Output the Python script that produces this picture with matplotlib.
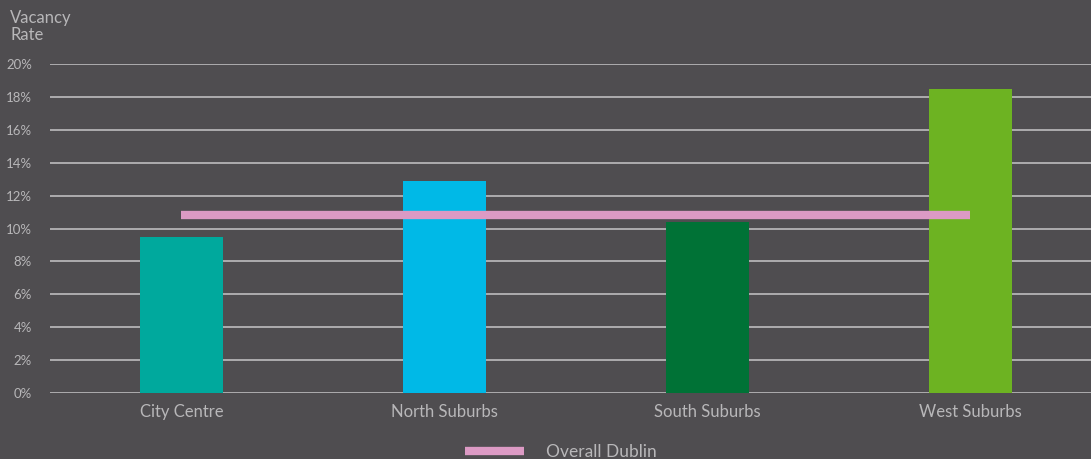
import matplotlib
matplotlib.use("Agg")
import matplotlib.pyplot as plt
from matplotlib.lines import Line2D
from matplotlib.ticker import FuncFormatter

categories = ["City Centre", "North Suburbs", "South Suburbs", "West Suburbs"]
vacancy = [9.5, 12.9, 10.4, 18.5]
overall_dublin = [10.8, 10.8, 10.8, 10.8]
yticks = [0, 2, 4, 6, 8, 10, 12, 14, 16, 18, 20]

bar_colors = ["#00a99d", "#00b9e7", "#007236", "#6db322"]
bg = "#4f4d50"
txt = "#b8b7b9"
grid_c = "#b4b3b5"
pink = "#dc9ac4"

plt.rcParams['font.family'] = ['Lato', 'DejaVu Sans']

fig = plt.figure(figsize=(10.91, 4.59), dpi=100, facecolor=bg)
ax = fig.add_axes([50/1091, 66/459, 1052/1091, 329/459])
ax.set_facecolor(bg)

x = list(range(len(categories)))
ax.bar(x, vacancy, width=0.316, color=bar_colors, zorder=2)
ax.plot(x, overall_dublin, color=pink, lw=6, solid_capstyle='butt', zorder=3)
ax.set_xlim(-0.5, 3.5)
ax.set_ylim(0, 20)
ax.set_yticks(yticks)
ax.yaxis.set_major_formatter(FuncFormatter(lambda v, p: f"{int(v)}%"))
ax.set_xticks(x)
ax.set_xticklabels(categories)
ax.grid(axis='y', color=grid_c, lw=1.3, zorder=1)
ax.set_axisbelow(True)
for s in ax.spines.values():
    s.set_visible(False)
ax.tick_params(axis='both', length=0, colors=txt)
ax.tick_params(axis='y', labelsize=9.5, pad=13)
ax.tick_params(axis='x', labelsize=12, pad=8)

fig.text(10/1091, 1 - 10/459, "Vacancy\nRate", color=txt, fontsize=12,
         va='top', ha='left', linespacing=1.1)

handle = Line2D([0], [0], color=pink, lw=6, solid_capstyle='butt')
leg = fig.legend([handle], ["Overall Dublin"], loc='center',
                 bbox_to_anchor=(561/1091, 7/459), frameon=False,
                 fontsize=12.5, handlelength=3.4, handletextpad=1.3)
for t in leg.get_texts():
    t.set_color(txt)

fig.savefig("out.png", dpi=100, facecolor=bg)
